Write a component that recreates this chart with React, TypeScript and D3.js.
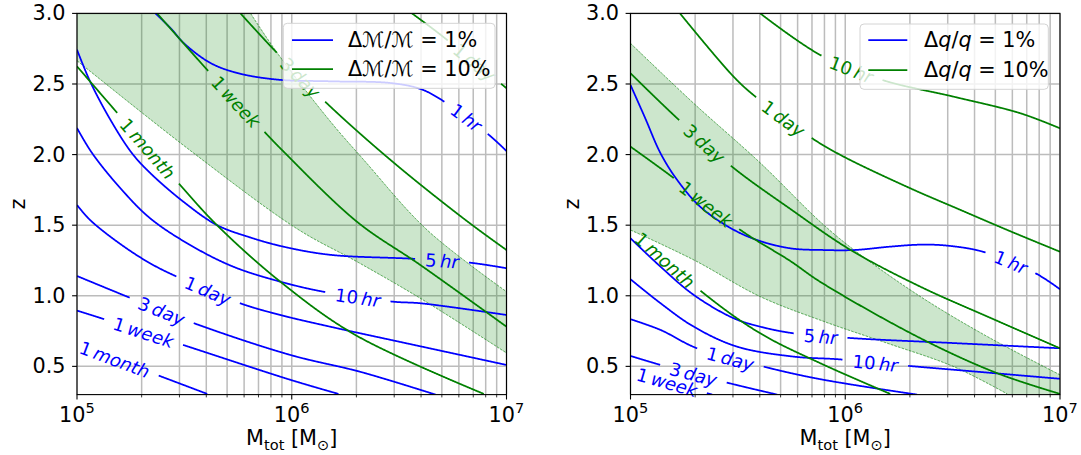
import React, { useEffect, useRef } from 'react';
import * as d3 from 'd3';

const WIDTH = 1081;
const HEIGHT = 455;

const Z_DOMAIN = [0.3, 3.0];
const Z_TICKS = [0.5, 1.0, 1.5, 2.0, 2.5, 3.0];
const M_DOMAIN = [1e5, 1e7];
const M_MAJOR_TICKS = [1e5, 1e6, 1e7];
const M_TICK_EXPONENTS = ['5', '6', '7'];
const MINOR_MULTIPLIERS = [2, 3, 4, 5, 6, 7, 8, 9];

const BLUE_LABELS = ['1 hr', '5 hr', '10 hr', '1 day', '3 day', '1 week', '1 month'];
const LEFT_GREEN_LABELS = ['1 month', '1 week', '3 day', '1 day'];
const RIGHT_GREEN_LABELS = ['10 hr', '1 day', '3 day', '1 week', '1 month'];

// ---------- Left panel: ΔM/M ----------
const L_B_1HR_M = [2.32e5, 2.75e5, 3.14e5, 4.18e5, 5.57e5, 8.56e5, 1.51e6, 2.88e6, 3.97e6, 5.01e6, 8.26e6, 1e7];
const L_B_1HR_Z = [3.0, 2.89, 2.79, 2.649, 2.578, 2.531, 2.519, 2.507, 2.465, 2.385, 2.141, 2.025];
const L_B_5HR_M = [1e5, 1.15e5, 1.43e5, 1.8e5, 2.19e5, 3.13e5, 4.48e5, 6.41e5, 9.13e5, 1.51e6, 3.68e6, 6.79e6, 1e7];
const L_B_5HR_Z = [2.743, 2.519, 2.247, 2.011, 1.87, 1.666, 1.501, 1.413, 1.348, 1.29, 1.262, 1.234, 1.195];
const L_B_10HR_M = [1e5, 1.175e5, 1.59e5, 2.19e5, 3.36e5, 5.34e5, 8.84e5, 1.4e6, 2.97e6, 3.97e6, 1e7];
const L_B_10HR_Z = [2.188, 2.011, 1.763, 1.549, 1.36, 1.206, 1.1, 1.029, 0.958, 0.947, 0.864];
const L_B_1DAY_M = [1e5, 1.15e5, 1.59e5, 2.19e5, 2.92e5, 5.75e5, 8.84e5, 1.51e6, 3.2e6, 1e7];
const L_B_1DAY_Z = [1.643, 1.537, 1.367, 1.23, 1.135, 0.947, 0.864, 0.781, 0.673, 0.51];
const L_B_3DAY_M = [1e5, 1.77e5, 3.47e5, 9.84e5, 2.09e6, 4.67e6];
const L_B_3DAY_Z = [1.14, 0.985, 0.808, 0.581, 0.461, 0.3];
const L_B_1WEEK_M = [1e5, 1.34e5, 3.19e5, 9.84e5, 1.65e6];
const L_B_1WEEK_Z = [0.895, 0.834, 0.647, 0.405, 0.305];
const L_B_1MONTH_M = [1e5, 2.36e5, 4.04e5];
const L_B_1MONTH_Z = [0.652, 0.439, 0.305];
const L_B_LABEL_M = [6.5e6, 5.01e6, 2.03e6, 4.06e5, 2.48e5, 2.04e5, 1.5e5];

const L_G_1MONTH_M = [1e5, 1.54e5, 3.02e5, 4.48e5, 8.84e5, 1.98e6, 7.84e6];
const L_G_1MONTH_Z = [2.625, 2.295, 1.785, 1.501, 1.1, 0.722, 0.305];
const L_G_1WEEK_M = [2.36e5, 4.04e5, 7.55e5, 9.0e5, 2.01e6, 3.97e6, 1e7];
const L_G_1WEEK_Z = [3.0, 2.6, 2.153, 2.033, 1.525, 1.218, 0.781];
const L_G_3DAY_M = [5.77e5, 8.26e5, 1.43e6, 2.93e6, 6.44e6, 1e7];
const L_G_3DAY_Z = [3.0, 2.743, 2.375, 1.953, 1.537, 1.324];
const L_G_1DAY_M = [3.63e6, 4.92e6, 1e7];
const L_G_1DAY_Z = [3.0, 2.85, 2.47];
const L_G_LABEL_M = [2.14e5, 5.51e5, 1.1e6, 7.09e6];

const L_BAND_UPPER_M = [6.43e5, 8.56e5, 1.51e6, 2.16e6, 4.27e6, 1e7];
const L_BAND_UPPER_Z = [3.0, 2.72, 2.236, 1.964, 1.466, 1.029];
const L_BAND_LOWER_M = [1e5, 3.36e5, 1.06e6, 2.02e6, 3.97e6, 1e7];
const L_BAND_LOWER_Z = [2.665, 2.03, 1.474, 1.24, 0.982, 0.595];

// ---------- Right panel: Δq/q ----------
const R_B_1HR_M = [1e5, 1.17e5, 1.38e5, 1.65e5, 2.11e5, 2.92e5, 3.88e5, 5.55e5, 7.94e5, 1.1e6, 1.62e6, 2.24e6, 2.99e6, 4.42e6, 7.7e6, 1e7];
const R_B_1HR_Z = [2.493, 2.259, 2.009, 1.82, 1.631, 1.48, 1.395, 1.336, 1.324, 1.324, 1.348, 1.362, 1.355, 1.31, 1.159, 1.046];
const R_B_5HR_M = [1e5, 1.38e5, 1.97e5, 3.02e5, 4.02e5, 5.75e5, 1.1e6, 3.09e6, 1e7];
const R_B_5HR_Z = [1.407, 1.206, 1.006, 0.841, 0.781, 0.734, 0.699, 0.666, 0.628];
const R_B_10HR_M = [1e5, 1.38e5, 1.97e5, 3.13e5, 5.75e5, 9.33e5, 1.98e6, 4.27e6, 1e7];
const R_B_10HR_Z = [1.117, 0.947, 0.781, 0.64, 0.569, 0.55, 0.503, 0.46, 0.412];
const R_B_1DAY_M = [1e5, 1.38e5, 2.04e5, 4.17e5, 7.66e5, 2.16e6];
const R_B_1DAY_Z = [0.834, 0.758, 0.628, 0.498, 0.409, 0.3];
const R_B_3DAY_M = [1e5, 1.38e5, 2.81e5, 4.82e5];
const R_B_3DAY_Z = [0.574, 0.51, 0.385, 0.3];
const R_B_1WEEK_M = [1e5, 1.48e5, 2.4e5];
const R_B_1WEEK_Z = [0.468, 0.39, 0.3];
const R_B_LABEL_M = [5.89e6, 7.66e5, 1.38e6, 2.92e5, 1.96e5, 1.48e5];

const R_G_10HR_M = [4.02e5, 7.66e5, 1.49e6, 3.2e6, 6.56e6, 1e7];
const R_G_10HR_Z = [3.0, 2.705, 2.528, 2.41, 2.292, 2.186];
const R_G_1DAY_M = [1.7e5, 3.02e5, 3.82e5, 7.13e5, 9.84e5, 2.01e6, 3.44e6, 5.68e6, 1e7];
const R_G_1DAY_Z = [3.0, 2.552, 2.41, 2.108, 1.985, 1.761, 1.608, 1.466, 1.312];
const R_G_3DAY_M = [1e5, 1.65e5, 2.97e5, 5.55e5, 1.06e6, 2.24e6, 4.75e6, 1e7];
const R_G_3DAY_Z = [2.576, 2.257, 1.914, 1.615, 1.324, 1.064, 0.843, 0.628];
const R_G_1WEEK_M = [1e5, 1.56e5, 3.25e5, 5.55e5, 7.66e5, 2.24e6, 5.11e6, 1e7];
const R_G_1WEEK_Z = [2.056, 1.843, 1.466, 1.246, 1.098, 0.699, 0.451, 0.305];
const R_G_1MONTH_M = [1e5, 2.19e5, 4.02e5, 7.66e5, 1.62e6];
const R_G_1MONTH_Z = [1.48, 1.018, 0.734, 0.522, 0.305];
const R_G_LABEL_M = [1.07e6, 5.15e5, 2.21e5, 2.25e5, 1.45e5];

const R_BAND_UPPER_M = [1e5, 1.97e5, 4.02e5, 7.66e5, 1.1e6, 2.24e6, 4.59e6, 1e7];
const R_BAND_UPPER_Z = [2.788, 2.363, 1.941, 1.523, 1.324, 0.994, 0.711, 0.44];
const R_BAND_LOWER_M = [1e5, 1.97e5, 4.02e5, 8.09e5, 1.57e6, 3.2e6, 5.68e6];
const R_BAND_LOWER_Z = [1.466, 1.254, 0.994, 0.814, 0.664, 0.498, 0.305];

type Curve = { m: number[]; z: number[] };

const LEFT_BLUE: Curve[] = [
  { m: L_B_1HR_M, z: L_B_1HR_Z },
  { m: L_B_5HR_M, z: L_B_5HR_Z },
  { m: L_B_10HR_M, z: L_B_10HR_Z },
  { m: L_B_1DAY_M, z: L_B_1DAY_Z },
  { m: L_B_3DAY_M, z: L_B_3DAY_Z },
  { m: L_B_1WEEK_M, z: L_B_1WEEK_Z },
  { m: L_B_1MONTH_M, z: L_B_1MONTH_Z },
];
const LEFT_GREEN: Curve[] = [
  { m: L_G_1MONTH_M, z: L_G_1MONTH_Z },
  { m: L_G_1WEEK_M, z: L_G_1WEEK_Z },
  { m: L_G_3DAY_M, z: L_G_3DAY_Z },
  { m: L_G_1DAY_M, z: L_G_1DAY_Z },
];
const RIGHT_BLUE: Curve[] = [
  { m: R_B_1HR_M, z: R_B_1HR_Z },
  { m: R_B_5HR_M, z: R_B_5HR_Z },
  { m: R_B_10HR_M, z: R_B_10HR_Z },
  { m: R_B_1DAY_M, z: R_B_1DAY_Z },
  { m: R_B_3DAY_M, z: R_B_3DAY_Z },
  { m: R_B_1WEEK_M, z: R_B_1WEEK_Z },
];
const RIGHT_GREEN: Curve[] = [
  { m: R_G_10HR_M, z: R_G_10HR_Z },
  { m: R_G_1DAY_M, z: R_G_1DAY_Z },
  { m: R_G_3DAY_M, z: R_G_3DAY_Z },
  { m: R_G_1WEEK_M, z: R_G_1WEEK_Z },
  { m: R_G_1MONTH_M, z: R_G_1MONTH_Z },
];

const FONT = "'DejaVu Sans', sans-serif";
const BLUE = '#0000ff';
const GREEN = '#008000';
const FS = 20.8;
const FS_SMALL = 14.6;
const LINE_W = 1.75;

export default function App() {
  const ref = useRef<SVGSVGElement>(null);

  useEffect(() => {
    const root = d3.select(ref.current);
    root.selectAll('*').remove();
    const defs = root.append('defs');
    const svg = root.append('g').attr('font-family', FONT);

    const y = d3.scaleLinear().domain(Z_DOMAIN).range([394.6, 13.4]);

    const panels = [
      {
        range: [77, 506.5],
        blue: LEFT_BLUE, blueLabels: BLUE_LABELS, blueAt: L_B_LABEL_M,
        green: LEFT_GREEN, greenLabels: LEFT_GREEN_LABELS, greenAt: L_G_LABEL_M,
        upper: { m: L_BAND_UPPER_M, z: L_BAND_UPPER_Z },
        lower: { m: L_BAND_LOWER_M, z: L_BAND_LOWER_Z },
        cornerStart: true,
        legend: { x: 283.3, y: 23.3, w: 211.7, h: 65, l0: 292, l1: 333, tx: 348, y1: 40, y2: 69 },
        legendKind: 'M',
        zLabelX: 25,
      },
      {
        range: [630.5, 1060],
        blue: RIGHT_BLUE, blueLabels: BLUE_LABELS, blueAt: R_B_LABEL_M,
        green: RIGHT_GREEN, greenLabels: RIGHT_GREEN_LABELS, greenAt: R_G_LABEL_M,
        upper: { m: R_BAND_UPPER_M, z: R_BAND_UPPER_Z },
        lower: { m: R_BAND_LOWER_M, z: R_BAND_LOWER_Z },
        cornerStart: false,
        legend: { x: 860, y: 24, w: 188.3, h: 65.3, l0: 868.3, l1: 907.3, tx: 924, y1: 40, y2: 70 },
        legendKind: 'q',
        zLabelX: 578.5,
      },
    ];

    const sample = (pts: [number, number][]) => {
      const d = d3.line().curve(d3.curveCatmullRom.alpha(0.5))(pts) as string;
      const path = svg.append('path').attr('d', d).attr('fill', 'none').node() as SVGPathElement;
      const L = path.getTotalLength();
      const n = Math.max(2, Math.ceil(L * 2));
      const out: { x: number; y: number; s: number }[] = [];
      for (let k = 0; k <= n; k++) {
        const s = (L * k) / n;
        const q = path.getPointAtLength(s);
        out.push({ x: q.x, y: q.y, s });
      }
      path.remove();
      return out;
    };

    panels.forEach((p, pi) => {
      const x = d3.scaleLog().domain(M_DOMAIN).range(p.range);
      const [x0, x1] = p.range;
      const yTop = y(Z_DOMAIN[1]);
      const yBot = y(Z_DOMAIN[0]);
      const clipId = `plotclip${pi}`;
      defs.append('clipPath').attr('id', clipId)
        .append('rect').attr('x', x0).attr('y', yTop).attr('width', x1 - x0).attr('height', yBot - yTop);

      const g = svg.append('g');
      const minorTicks: number[] = [];
      M_MAJOR_TICKS.slice(0, 2).forEach((dec) => MINOR_MULTIPLIERS.forEach((k) => minorTicks.push(dec * k)));

      // grid
      const grid = g.append('g').attr('stroke', '#bcbcbc').attr('stroke-width', 1.5);
      [...M_MAJOR_TICKS, ...minorTicks].forEach((m) => {
        grid.append('line').attr('x1', x(m)).attr('x2', x(m)).attr('y1', yTop).attr('y2', yBot);
      });
      Z_TICKS.forEach((z) => {
        grid.append('line').attr('x1', x0).attr('x2', x1).attr('y1', y(z)).attr('y2', y(z));
      });

      // shaded band
      const plot = g.append('g').attr('clip-path', `url(#${clipId})`);
      const upS = sample(p.upper.m.map((m, k) => [x(m), y(p.upper.z[k])] as [number, number]));
      const loS = sample(p.lower.m.map((m, k) => [x(m), y(p.lower.z[k])] as [number, number]));
      const poly: [number, number][] = [];
      if (p.cornerStart) poly.push([x(M_DOMAIN[0]), y(Z_DOMAIN[1])]);
      upS.forEach((q) => poly.push([q.x, q.y]));
      if (!p.cornerStart) poly.push([x(M_DOMAIN[1]), y(Z_DOMAIN[0])]);
      loS.slice().reverse().forEach((q) => poly.push([q.x, q.y]));
      plot.append('path').attr('d', (d3.line()(poly) as string) + 'Z')
        .attr('fill', GREEN).attr('fill-opacity', 0.2).attr('stroke', 'none');
      [upS, loS].forEach((s) => {
        plot.append('path').attr('d', d3.line()(s.map((q) => [q.x, q.y] as [number, number])) as string)
          .attr('fill', 'none').attr('stroke', GREEN).attr('stroke-width', 0.7).attr('stroke-dasharray', '2.6,1.2');
      });

      const labelLayer = g.append('g');
      const drawContour = (c: Curve, label: string, at: number, color: string) => {
        const smp = sample(c.m.map((m, k) => [x(m), y(c.z[k])] as [number, number]));
        const lx = x(at);
        let best = 0;
        smp.forEach((q, k) => { if (Math.abs(q.x - lx) < Math.abs(smp[best].x - lx)) best = k; });
        const s0 = smp[best].s;
        const [num, unit] = label.split(' ');
        const t = labelLayer.append('text').attr('fill', color).attr('font-size', 18)
          .attr('text-anchor', 'middle').attr('dominant-baseline', 'central');
        t.append('tspan').text(num + '\u2009');
        t.append('tspan').attr('font-style', 'italic').text(unit);
        const w = (t.node() as SVGTextElement).getComputedTextLength();
        const half = w / 2 + 10;
        const segs = [smp.filter((q) => q.s < s0 - half), smp.filter((q) => q.s > s0 + half)];
        segs.forEach((sg) => {
          if (sg.length < 2) return;
          plot.append('path').attr('d', d3.line()(sg.map((q) => [q.x, q.y] as [number, number])) as string)
            .attr('fill', 'none').attr('stroke', color).attr('stroke-width', LINE_W);
        });
        const find = (s: number) => {
          let k = 0;
          while (k < smp.length - 1 && smp[k].s < s) k++;
          return smp[k];
        };
        const hw = w / 2;
        const a = find(Math.max(0, s0 - hw));
        const b = find(Math.min(smp[smp.length - 1].s, s0 + hw));
        let ang = (Math.atan2(b.y - a.y, b.x - a.x) * 180) / Math.PI;
        if (ang > 90) ang -= 180;
        if (ang < -90) ang += 180;
        t.attr('transform', `translate(${smp[best].x},${smp[best].y}) rotate(${ang})`);
      };

      p.blue.forEach((c, k) => drawContour(c, p.blueLabels[k], p.blueAt[k], BLUE));
      p.green.forEach((c, k) => drawContour(c, p.greenLabels[k], p.greenAt[k], GREEN));
      labelLayer.raise();

      // spines
      g.append('rect').attr('x', x0).attr('y', yTop).attr('width', x1 - x0).attr('height', yBot - yTop)
        .attr('fill', 'none').attr('stroke', '#000').attr('stroke-width', 1.1);

      // y ticks
      Z_TICKS.forEach((z) => {
        g.append('line').attr('x1', x0 - 4.9).attr('x2', x0).attr('y1', y(z)).attr('y2', y(z))
          .attr('stroke', '#000').attr('stroke-width', 1.1);
        g.append('text').attr('x', x0 - 11.5).attr('y', y(z)).attr('text-anchor', 'end')
          .attr('dominant-baseline', 'central').attr('font-size', FS).attr('fill', '#000')
          .text(z.toFixed(1));
      });
      // x ticks
      M_MAJOR_TICKS.forEach((m, k) => {
        g.append('line').attr('x1', x(m)).attr('x2', x(m)).attr('y1', yBot).attr('y2', yBot + 4.9)
          .attr('stroke', '#000').attr('stroke-width', 1.1);
        const t = g.append('text').attr('x', x(m)).attr('y', 421.7).attr('text-anchor', 'middle')
          .attr('font-size', FS).attr('fill', '#000');
        t.append('tspan').text('10');
        t.append('tspan').attr('font-size', FS_SMALL).attr('dy', -8.5).text(M_TICK_EXPONENTS[k]);
      });
      minorTicks.forEach((m) => {
        g.append('line').attr('x1', x(m)).attr('x2', x(m)).attr('y1', yBot).attr('y2', yBot + 2.8)
          .attr('stroke', '#000').attr('stroke-width', 0.8);
      });

      // axis labels
      const xl = g.append('text').attr('x', (x0 + x1) / 2).attr('y', 445).attr('text-anchor', 'middle')
        .attr('font-size', FS).attr('fill', '#000');
      xl.append('tspan').text('M');
      xl.append('tspan').attr('font-size', FS_SMALL).attr('dy', 4.5).text('tot');
      xl.append('tspan').attr('font-size', FS).attr('dy', -4.5).text('\u00a0[M');
      xl.append('tspan').attr('font-size', FS_SMALL).attr('dy', 4.5).text('\u2299');
      xl.append('tspan').attr('font-size', FS).attr('dy', -4.5).text(']');

      g.append('text').attr('transform', `translate(${p.zLabelX},${(yTop + yBot) / 2}) rotate(-90)`)
        .attr('text-anchor', 'middle').attr('font-size', FS).attr('fill', '#000').text('z');

      // legend
      const L = p.legend;
      const lg = g.append('g');
      lg.append('rect').attr('x', L.x).attr('y', L.y).attr('width', L.w).attr('height', L.h).attr('rx', 4)
        .attr('fill', '#fff').attr('fill-opacity', 0.8).attr('stroke', '#d4d4d4').attr('stroke-width', 1);
      [[L.y1, BLUE, '1%'], [L.y2, GREEN, '10%']].forEach(([ly, col, pct]) => {
        lg.append('line').attr('x1', L.l0).attr('x2', L.l1).attr('y1', ly as number).attr('y2', ly as number)
          .attr('stroke', col as string).attr('stroke-width', LINE_W);
        const t = lg.append('text').attr('x', L.tx).attr('y', ly as number).attr('dominant-baseline', 'central')
          .attr('font-size', FS).attr('fill', '#000');
        if (p.legendKind === 'M') {
          t.append('tspan').text('\u0394\u2133/\u2133 = ' + pct);
        } else {
          t.append('tspan').text('\u0394');
          t.append('tspan').attr('font-style', 'italic').text('q');
          t.append('tspan').text('/');
          t.append('tspan').attr('font-style', 'italic').text('q');
          t.append('tspan').text(' = ' + pct);
        }
      });
    });
  }, []);

  return (
    <svg
      ref={ref}
      width={WIDTH}
      height={HEIGHT}
      style={{ position: 'absolute', left: 0, top: 0, background: '#fff' }}
    />
  );
}
